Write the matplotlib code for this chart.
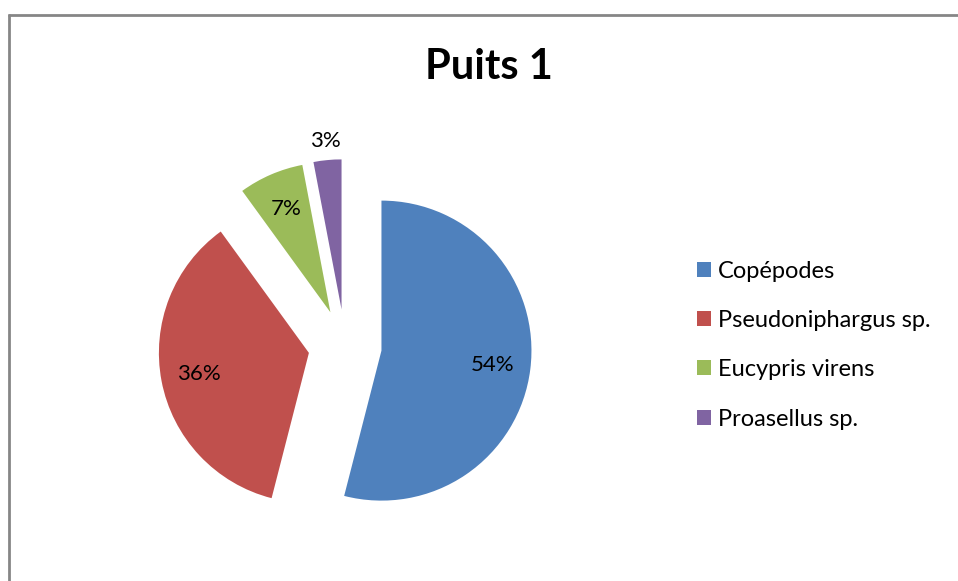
import numpy as np
import matplotlib.pyplot as plt
from matplotlib.lines import Line2D

# Composition of the fauna sampled in well 1
species = ["Copépodes", "Pseudoniphargus sp.", "Eucypris virens", "Proasellus sp."]
shares = [54, 36, 7, 3]
colors = ["#4F81BD", "#C0504D", "#9BBB59", "#8064A2"]

plt.rcParams["font.family"] = ["Lato", "DejaVu Sans"]

W, H = 958, 581
fig = plt.figure(figsize=(W / 100, H / 100), dpi=100)
ax = fig.add_axes([0, 0, 1, 1])

center = (345, H - 346)
radius = 150

# explode is in data units here (pixels), every slice pulled out by a quarter radius
wedges, texts, autotexts = ax.pie(
    shares,
    colors=colors,
    startangle=90,
    counterclock=False,
    explode=[0.245 * radius] * len(shares),
    center=center,
    radius=radius,
    autopct="%1.0f%%",
    pctdistance=0.75,
    textprops={"fontsize": 16, "color": "black"},
)

# small slices get their label pushed outside
for w, t, v in zip(wedges, autotexts, shares):
    if v < 5:
        mid = np.deg2rad((w.theta1 + w.theta2) / 2)
        cx, cy = w.center
        t.set_position((cx + 1.13 * radius * np.cos(mid),
                        cy + 1.13 * radius * np.sin(mid)))

ax.set_xlim(0, W)
ax.set_ylim(0, H)
ax.set_axis_off()

ax.text(489, H - 79, "Puits 1", fontsize=30, fontweight="bold",
        ha="center", va="baseline")

leg = ax.legend(
    wedges, species,
    loc="center left",
    bbox_to_anchor=(697, H - 345),
    bbox_transform=ax.transData,
    frameon=False,
    fontsize=17,
    borderpad=0,
    borderaxespad=0,
    labelspacing=1.2,
    handlelength=0.58,
    handleheight=0.58,
    handletextpad=0.3,
)

# chart area border (runs off the right and bottom edges)
border = dict(color="#868686", linewidth=2, solid_capstyle="butt")
fig.add_artist(Line2D([8 / W, 1], [1 - 15 / H, 1 - 15 / H],
                      transform=fig.transFigure, **border))
fig.add_artist(Line2D([9 / W, 9 / W], [0, 1 - 14 / H],
                      transform=fig.transFigure, **border))

fig.savefig("out.png", dpi=100, facecolor="white")
